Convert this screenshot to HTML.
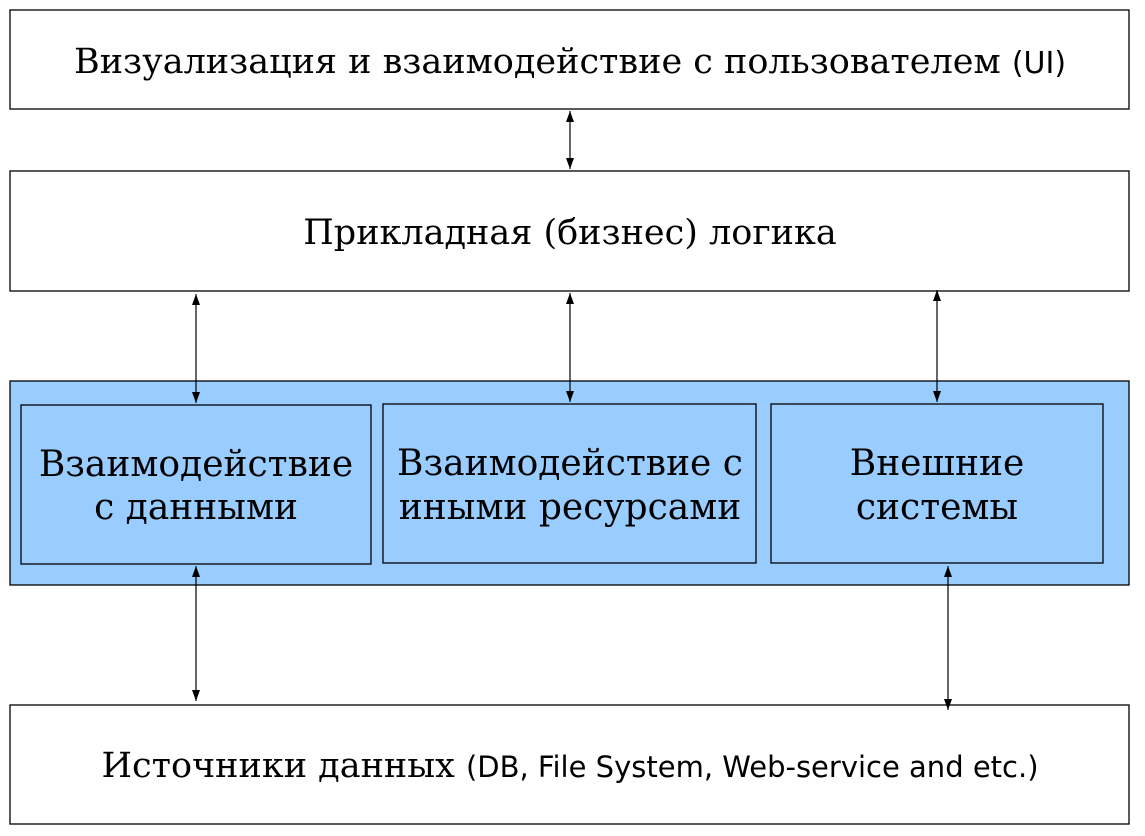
<!DOCTYPE html>
<html><head><meta charset="utf-8"><style>
html,body{margin:0;padding:0;background:#fff;}
svg{display:block}
.s{font-family:"DejaVu Serif","Liberation Serif",serif;font-size:35px;fill:#000}
.b{font-size:36px}
.n{font-family:"DejaVu Sans","Liberation Sans",sans-serif;font-size:29px}
</style></head><body>
<svg width="1145" height="836" viewBox="0 0 1145 836">
<defs><marker id="a" markerWidth="12" markerHeight="12" refX="11" refY="6" orient="auto-start-reverse" markerUnits="userSpaceOnUse"><path d="M0,2 L11,6 L0,10 z" fill="#000"/></marker></defs>
<g fill="#fff" stroke="#000" stroke-width="1.3">
<rect x="10" y="10" width="1119" height="99"/>
<rect x="10" y="171" width="1119" height="120"/>
<rect x="10" y="381" width="1119" height="204" fill="#99ccff"/>
<rect x="21" y="405" width="350" height="159" fill="#99ccff"/>
<rect x="383" y="404" width="373" height="159" fill="#99ccff"/>
<rect x="771" y="404" width="332" height="159" fill="#99ccff"/>
<rect x="10" y="705" width="1119" height="119"/>
</g>
<g stroke="#000" stroke-width="1.2" marker-start="url(#a)" marker-end="url(#a)">
<line x1="570" y1="111" x2="570" y2="169"/>
<line x1="196" y1="294" x2="196" y2="403"/>
<line x1="570" y1="293" x2="570" y2="402"/>
<line x1="937" y1="290" x2="937" y2="402"/>
<line x1="196" y1="566" x2="196" y2="701"/>
<line x1="948" y1="566" x2="948" y2="710"/>
</g>
<text class="s" x="570" y="73" text-anchor="middle">Визуализация и взаимодействие с пользователем <tspan class="n" style="font-size:30px">(UI)</tspan></text>
<text class="s" x="570" y="244" text-anchor="middle">Прикладная (бизнес) логика</text>
<text class="s b" x="196" y="476" text-anchor="middle">Взаимодействие</text>
<text class="s b" x="196" y="519" text-anchor="middle">с данными</text>
<text class="s b" x="570" y="475" text-anchor="middle">Взаимодействие с</text>
<text class="s b" x="570" y="519" text-anchor="middle">иными ресурсами</text>
<text class="s b" x="937" y="475" text-anchor="middle">Внешние</text>
<text class="s b" x="937" y="519" text-anchor="middle">системы</text>
<text class="s" x="570" y="777" text-anchor="middle">Источники данных <tspan class="n">(DB, File System, Web-service and etc.)</tspan></text>
</svg>
</body></html>
